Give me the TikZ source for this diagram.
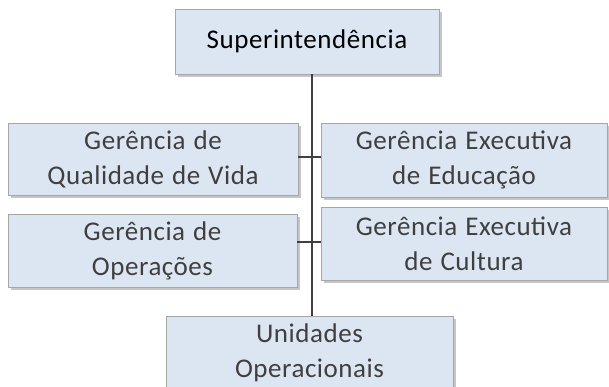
\documentclass[tikz,border=0pt]{standalone}
\usepackage{fontspec}
\setmainfont{Carlito}[LetterSpace=2,WordSpace=1.2]
\usetikzlibrary{shadows}
\definecolor{boxfill}{HTML}{DCE6F2}
\definecolor{boxline}{HTML}{A6A6A6}
\definecolor{txt}{HTML}{3F3F3F}
\definecolor{conn}{HTML}{404040}
\begin{document}
\begin{tikzpicture}[x=1pt,y=1pt,
  orgbox/.style={draw=boxline, fill=boxfill, line width=0.8pt, align=center,
    text=txt, font=\fontsize{27}{35}\selectfont, inner sep=0pt,
    drop shadow={shadow xshift=3pt, shadow yshift=-3pt, opacity=0.45, fill=gray}},
  link/.style={draw=conn, line width=1.4pt}]
\useasboundingbox (0,0) rectangle (609,-387);
\clip (0,0) rectangle (609,-387);
\node[orgbox, minimum width=264pt, minimum height=65pt, text=black] (sup) at (307,-41.5) {Superintendência};
\node[orgbox, minimum width=290pt, minimum height=72pt] (qv) at (153,-159) {Gerência de\\Qualidade de Vida};
\node[orgbox, minimum width=286pt, minimum height=74pt] (ed) at (464,-160) {Gerência Executiva\\de Educação};
\node[orgbox, minimum width=289pt, minimum height=73pt] (op) at (152.5,-250.5) {Gerência de\\Operações};
\node[orgbox, minimum width=286pt, minimum height=73pt] (cu) at (464,-243.5) {Gerência Executiva\\de Cultura};
\node[orgbox, minimum width=287pt, minimum height=73pt] (un) at (309.5,-352.5) {Unidades\\Operacionais};
\coordinate (j1) at (312,-157);
\coordinate (j2) at (312,-242);
\draw[link] (sup.south -| j1) -- (un.north -| j1);
\draw[link] (qv.east |- j1) -- (ed.west |- j1);
\draw[link] (op.east |- j2) -- (cu.west |- j2);
\end{tikzpicture}
\end{document}
